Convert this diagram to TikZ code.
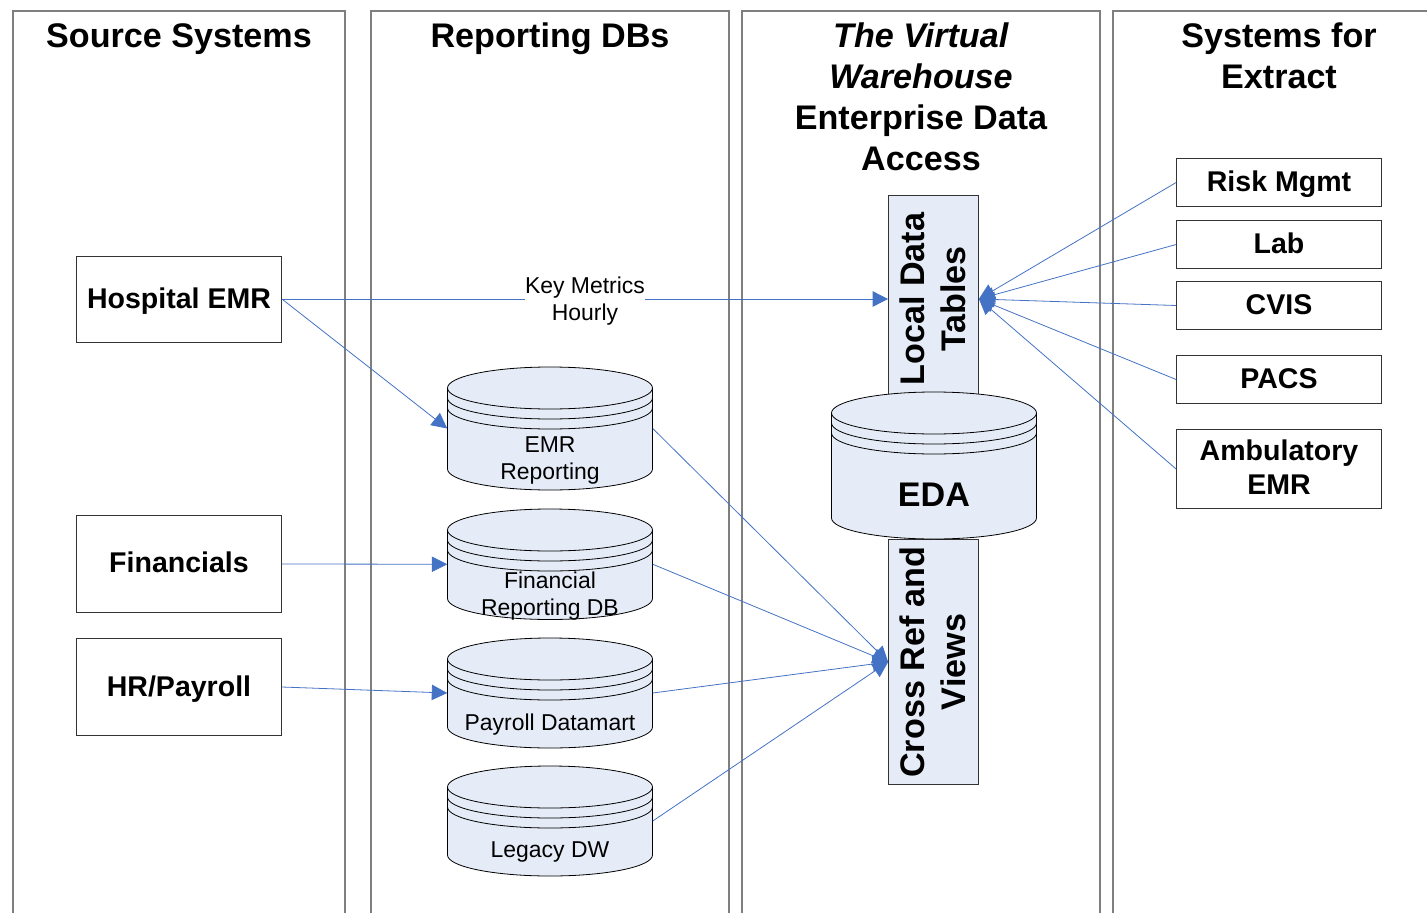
\documentclass[tikz,border=0pt]{standalone}
\usepackage{fontspec}
\setmainfont{Liberation Sans}
\usetikzlibrary{arrows.meta}
\definecolor{cylfill}{HTML}{E6ECF7}
\definecolor{linkblue}{HTML}{4472C4}
\definecolor{colgray}{HTML}{7F7F7F}
\tikzset{
  x=0.75pt,y=-0.75pt,
  column/.style={draw=colgray,line width=0.8pt},
  title/.style={font=\fontsize{25.6}{30.75}\selectfont\bfseries,align=center,inner sep=0pt},
  srcbox/.style={draw=black!80,line width=0.6pt,fill=white,minimum width=153.75pt,font=\fontsize{21.4}{25.5}\selectfont\bfseries,align=center,inner sep=0pt},
  slab/.style={draw=black!80,line width=0.6pt,fill=cylfill,minimum height=67.5pt,rotate=90,font=\fontsize{25.6}{30.75}\selectfont\bfseries,align=center,inner sep=0pt},
  cylout/.style={draw=black,line width=0.6pt},
  cyltext/.style={font=\fontsize{17.2}{20.25}\selectfont,align=center,inner sep=0pt},
  cylbold/.style={font=\fontsize{25.6}{30.75}\selectfont\bfseries,inner sep=0pt},
  anchorbox/.style={minimum width=153.75pt,inner sep=0pt},
  link/.style={draw=linkblue,line width=0.6pt,-{Triangle[length=11.6pt,width=11.6pt,fill=linkblue]}},
  keylabel/.style={fill=white,font=\fontsize{17.2}{20.25}\selectfont,align=center,inner sep=0pt,outer sep=0pt,minimum width=90pt,yshift=-1.5pt}
}
\newcommand{\lift}[2]{\raisebox{#1}[\height][\depth]{\begin{tabular}{@{}c@{}}#2\end{tabular}}}
% #1 name, #2 left, #3 top, #4 bottom, #5 width
\newcommand{\cylshape}[5]{%
  \pgfmathsetmacro{\cc}{#3+21}%
  \pgfmathsetmacro{\ce}{#4-21}%
  \pgfmathsetmacro{\rx}{#5/2}%
  \pgfmathsetmacro{\rr}{#2+#5}%
  \pgfmathsetmacro{\mx}{#2+#5/2}%
  \pgfmathsetmacro{\my}{(#3+#4)/2}%
  \pgfmathsetmacro{\hh}{(#4-#3)*0.75}%
  \path[cylout,fill=cylfill] (#2,\cc) arc[start angle=180,end angle=360,x radius=\rx,y radius=21]
     -- (\rr,\ce) arc[start angle=0,end angle=180,x radius=\rx,y radius=21] -- cycle;
  \foreach \dy in {0,10,20}{
    \draw[cylout] (#2,\cc+\dy) arc[start angle=180,end angle=0,x radius=\rx,y radius=21];
  }
  \node[anchorbox,minimum height=\hh pt] (#1) at (\mx,\my) {};
}
\begin{document}
\begin{tikzpicture}
\useasboundingbox (0,0) rectangle (1427,913);
% columns
\draw[column] (13,913) -- (13,11) -- (345,11) -- (345,913);
\draw[column] (371,913) -- (371,11) -- (729,11) -- (729,913);
\draw[column] (742,913) -- (742,11) -- (1100,11) -- (1100,913);
\draw[column] (1113,913) -- (1113,11) -- (1427,11);
% titles
\node[title] (t1) at (179,39) {Source Systems};
\node[title] (t2) at (550,39) {Reporting DBs};
\node[title] (t3) at (921,97) {\textit{The Virtual}\\\textit{Warehouse}\\Enterprise Data\\Access};
\node[title] (t4) at (1279,56) {Systems for\\Extract};
% source boxes
\node[srcbox,minimum height=64.5pt] (hosp) at (179,299) {\lift{-2.25pt}{Hospital EMR}};
\node[srcbox,minimum height=73pt] (fin) at (179,564) {\lift{-1.5pt}{Financials}};
\node[srcbox,minimum height=73pt] (hr) at (179,687) {\lift{-2.25pt}{HR/Payroll}};
% extract boxes
\node[srcbox,minimum height=36.5pt] (risk) at (1279,182.5) {\lift{-1.5pt}{Risk Mgmt}};
\node[srcbox,minimum height=36.5pt] (lab) at (1279,244.5) {\lift{-1.5pt}{Lab}};
\node[srcbox,minimum height=36.5pt] (cvis) at (1279,305.5) {\lift{-1.5pt}{CVIS}};
\node[srcbox,minimum height=36.5pt] (pacs) at (1279,379.5) {\lift{-1.5pt}{PACS}};
\node[srcbox,minimum height=59.5pt] (amb) at (1279,469) {\lift{-1.5pt}{Ambulatory\\EMR}};
% slabs behind EDA
\node[slab,minimum width=156pt] (local) at (933.5,299) {\lift{-2.25pt}{Local Data\\Tables}};
\node[slab,minimum width=183.75pt] (cross) at (933.5,662) {\lift{-2.25pt}{Cross Ref and\\Views}};
% cylinders
\cylshape{emr}{447.5}{367}{490}{205}
\node[cyltext] (emrt) at (550,460.5) {EMR\\Reporting};
\cylshape{finrep}{447.5}{509}{619.5}{205}
\node[cyltext] (fint) at (550,596) {Financial\\Reporting DB};
\cylshape{pay}{447.5}{638}{748}{205}
\node[cyltext] (payt) at (550,725) {Payroll Datamart};
\cylshape{leg}{447.5}{766}{876}{205}
\node[cyltext] (legt) at (550,852) {Legacy DW};
\cylshape{eda}{831.5}{392}{539}{205}
\node[cylbold] (edat) at (934,495) {EDA};
% connectors
\draw[link] (hosp.east) -- node[keylabel,midway] {Key Metrics\\Hourly} (local.north);
\draw[link] (hosp.east) -- (emr.west);
\draw[link] (fin.east) -- (finrep.west);
\draw[link] (hr.east) -- (pay.west);
\draw[link] (emr.east) -- (cross.north);
\draw[link] (finrep.east) -- (cross.north);
\draw[link] (pay.east) -- (cross.north);
\draw[link] (leg.east) -- (cross.north);
\draw[link] (risk.west) -- (local.south);
\draw[link] (lab.west) -- (local.south);
\draw[link] (cvis.west) -- (local.south);
\draw[link] (pacs.west) -- (local.south);
\draw[link] (amb.west) -- (local.south);
\end{tikzpicture}
\end{document}
